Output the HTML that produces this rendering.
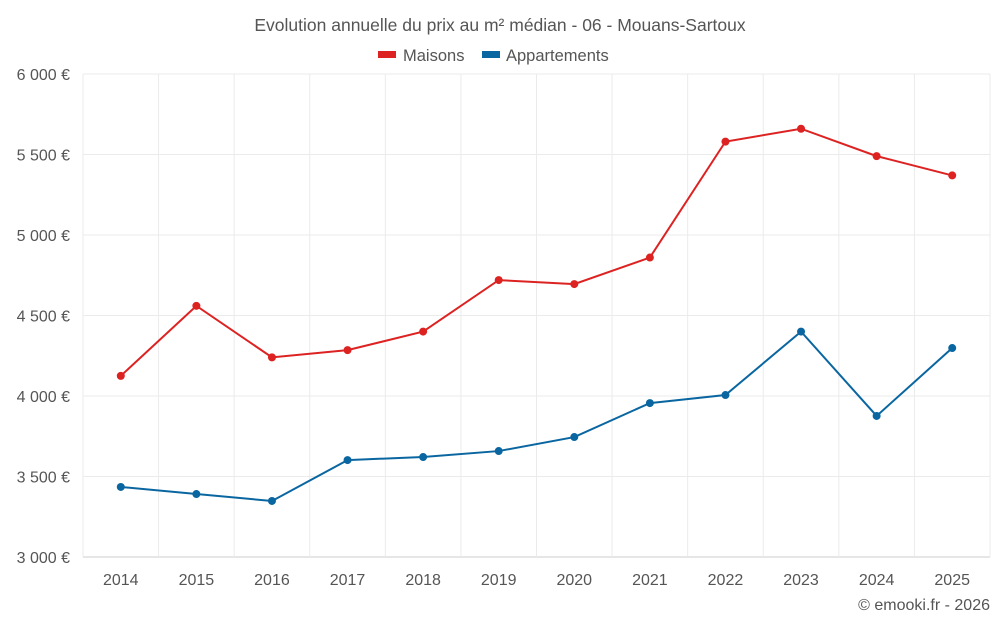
<!DOCTYPE html>
<html><head><meta charset="utf-8"><style>
body{margin:0;background:#fff;font-family:"Liberation Sans",sans-serif;}
svg text{font-family:"Liberation Sans",sans-serif;}
</style></head><body>
<svg id="c" width="1000" height="625">
<text x="500" y="31" text-anchor="middle" font-size="17.5" fill="#555">Evolution annuelle du prix au m² médian - 06 - Mouans-Sartoux</text>
<g>
<g><rect x="378" y="51" width="18" height="7" fill="#dd2222"/><text x="403" y="61" font-size="16.5" fill="#555">Maisons</text></g>
<g><rect x="482" y="51" width="18" height="7" fill="#0a66a0"/><text x="506" y="61" font-size="16.5" fill="#555">Appartements</text></g>
</g>
<g id="grid"></g><g id="axes"></g><g id="series"></g>
<text x="990" y="610" text-anchor="end" font-size="16" fill="#555">© emooki.fr - 2026</text>
</svg>
<script>
const years=[2014,2015,2016,2017,2018,2019,2020,2021,2022,2023,2024,2025];
const maisons=[4125,4560,4240,4285,4400,4720,4695,4860,5580,5660,5490,5370];
const appartements=[3435,3391,3348,3602,3621,3658,3745,3956,4006,4400,3876,4298];
const yTicks=[3000,3500,4000,4500,5000,5500,6000];
const yTickLabels=["3 000 €","3 500 €","4 000 €","4 500 €","5 000 €","5 500 €","6 000 €"];
const L=83,R=990,T=74,B=557,ymin=3000,ymax=6000;
const NS="http://www.w3.org/2000/svg";
const bw=(R-L)/years.length;
function x(i){return L+(i+0.5)*bw;}
function y(v){return B-(v-ymin)/(ymax-ymin)*(B-T);}
function mk(t,a,p){const e=document.createElementNS(NS,t);for(const k in a)e.setAttribute(k,a[k]);p.appendChild(e);return e;}
const g=document.getElementById('grid'),ax=document.getElementById('axes'),s=document.getElementById('series');
yTicks.forEach((v,i)=>{
 const l=mk('line',{x1:L,x2:R,y1:y(v),y2:y(v),stroke:i==0?'#ccc':'#ebebeb'},g);
 
 
 const t=mk('text',{x:L-13,y:y(v)+6,'text-anchor':'end','font-size':16,fill:'#555'},ax);t.textContent=yTickLabels[i];
 
 
});
for(let i=0;i<=years.length;i++){
 const l=mk('line',{x1:L+i*bw,x2:L+i*bw,y1:T,y2:B,stroke:'#ebebeb'},g);
 
 
}
years.forEach((yr,i)=>{
 const t=mk('text',{x:x(i),y:585,'text-anchor':'middle','font-size':16,fill:'#555'},ax);t.textContent=yr;
 
 
});
function series(vals,col,name){
 const p=mk('polyline',{points:vals.map((v,i)=>x(i)+','+y(v)).join(' '),fill:'none',stroke:col,'stroke-width':2},s);
 
 
 vals.forEach((v,i)=>{const c=mk('circle',{cx:x(i),cy:y(v),r:4,fill:col},s);
  
  });
}
series(maisons,'#dd2222','maisons');
series(appartements,'#0a66a0','appartements');
</script>
</body></html>
